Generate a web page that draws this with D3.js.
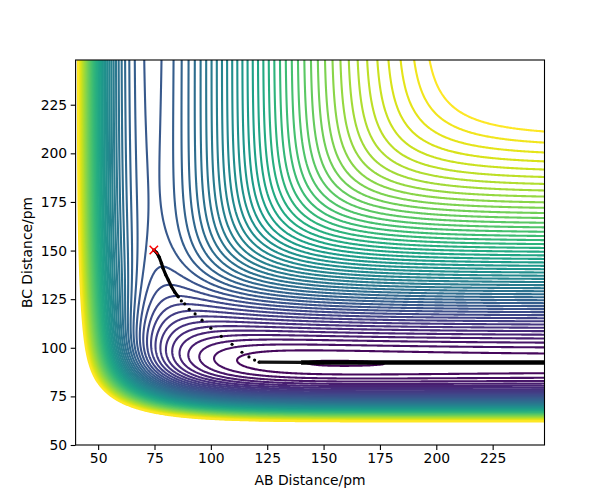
<!DOCTYPE html>
<html><head><meta charset="utf-8">
<script src="https://cdn.jsdelivr.net/npm/d3@7"></script>
<style>body{margin:0;background:#fff}svg{display:block}text{font-family:"DejaVu Sans",sans-serif}</style>
</head><body>
<svg id="c" width="605" height="500"></svg>
<script>
// Pair parameters (A=H, B=H, C=F) : [H-H, H-F]
const pairDe   = [458.0, 590.7];    // kJ/mol
const pairBeta = [0.01942, 0.02219]; // 1/pm
const pairRe   = [74.1, 91.7];      // pm
const pairSato = [0.30, 0.16];
// contour levels (kJ/mol)
const levelMin = -594.6, levelMax = -84.6, levelStep = 10;
// axes
const xDomain = [40, 248], yDomain = [50, 248];
const xTicks = [50, 75, 100, 125, 150, 175, 200, 225];
const yTicks = [50, 75, 100, 125, 150, 175, 200, 225];
// trajectory (AB, BC)
const startPoint = [74.7, 150.3];
const trajHead = [[74.8,150.2],[75.9,149.0],[77.1,146.6],[78.1,143.5],[78.8,140.9],[80.0,137.5],[81.1,134.9],[82.5,131.5],[84.0,128.6],[85.5,126.3]];
const trajDots = [[86.9,124.1],[88.4,122.6],[90.4,119.8],[93.0,117.4],[96.1,114.2],[100.0,110.1],[104.6,105.9],[109.4,101.8],[113.8,97.7],[116.9,95.3],[119.4,93.7],[121.4,92.6]];
const trajTailA = [[121.4,92.6],[140,92.45]];
const trajTailB = [[140,92.45],[248,92.4]];

const L=75.6, R=544.5, T=60, B=445;
const svg = d3.select("#c");
const xs = d3.scaleLinear().domain(xDomain).range([L,R]);
const ys = d3.scaleLinear().domain(yDomain).range([B,T]);

function parts(r,k){
  const e = Math.exp(-pairBeta[k]*(r-pairRe[k])), D=pairDe[k], S=pairSato[k];
  const Q = D/4*((3+S)*e*e-(2+6*S)*e);
  const J = D/4*((1+3*S)*e*e-(6+2*S)*e);
  return [Q/(1+S), J/(1+S)];
}
function V(ab,bc){
  const [q1,j1]=parts(ab,0), [q2,j2]=parts(bc,1), [q3,j3]=parts(ab+bc,1);
  return q1+q2+q3-Math.sqrt(Math.max(0,j1*j1+j2*j2+j3*j3-j1*j2-j2*j3-j1*j3));
}
const step=0.5, gx0=xDomain[0]-1, gy0=yDomain[0]-1;
const nx=Math.round((xDomain[1]+1-gx0)/step)+1, ny=Math.round((yDomain[1]+1-gy0)/step)+1;
const vals=new Array(nx*ny);
for(let j=0;j<ny;j++)for(let i=0;i<nx;i++){vals[j*nx+i]=Math.min(1e4,V(gx0+i*step,gy0+j*step));}
const levels=d3.range(levelMin, levelMax+1e-9, levelStep);
const color=v=>d3.interpolateViridis((v-levelMin)/(levelMax-levelMin));
const contours=d3.contours().size([nx,ny]).thresholds(levels)(vals);
const proj=d3.geoTransform({point(x,y){this.stream.point(xs(gx0+(x-0.5)*step), ys(gy0+(y-0.5)*step));}});
const path=d3.geoPath(proj);
svg.append("clipPath").attr("id","clip").append("rect").attr("x",L).attr("y",T).attr("width",R-L).attr("height",B-T);
const g=svg.append("g").attr("clip-path","url(#clip)");
g.selectAll("path.c").data(contours).join("path").attr("class","c")
 .attr("d",path).attr("fill","none").attr("stroke",d=>color(d.value)).attr("stroke-width",2.1);
// trajectory
const line=d3.line().x(d=>xs(d[0])).y(d=>ys(d[1]));
g.append("path").attr("d",line(trajHead)).attr("fill","none").attr("stroke","#000").attr("stroke-width",3.2).attr("stroke-linecap","round");
g.selectAll("circle.t").data(trajHead.concat(trajDots)).join("circle").attr("class","t").attr("cx",d=>xs(d[0])).attr("cy",d=>ys(d[1])).attr("r",1.6).attr("fill","#000");
g.append("path").attr("d",line(trajTailA)).attr("fill","none").attr("stroke","#111").attr("stroke-width",3.2);
g.append("path").attr("d",line(trajTailB)).attr("fill","none").attr("stroke","#000").attr("stroke-width",4.6);
// start marker
const sx=xs(startPoint[0]), sy=ys(startPoint[1]), s=4.2;
svg.append("path").attr("d",`M${sx-s},${sy-s}L${sx+s},${sy+s}M${sx-s},${sy+s}L${sx+s},${sy-s}`).attr("stroke","red").attr("stroke-width",1.5);
// axes
const ax=svg.append("g").attr("transform",`translate(0,${B})`).call(d3.axisBottom(xs).tickValues(xTicks).tickSize(4.9).tickPadding(3.5));
const ay=svg.append("g").attr("transform",`translate(${L},0)`).call(d3.axisLeft(ys).tickValues(yTicks).tickSize(4.9).tickPadding(3.5));
[ax,ay].forEach(a=>{a.select(".domain").remove();a.selectAll("line").attr("stroke","#000").attr("stroke-width",1.1);a.selectAll("text").attr("font-size",13.9).attr("font-family","DejaVu Sans").attr("fill","#000");});
svg.append("rect").attr("x",L).attr("y",T).attr("width",R-L).attr("height",B-T).attr("fill","none").attr("stroke","#000").attr("stroke-width",1.1);
svg.append("text").attr("x",(L+R)/2).attr("y",485).attr("text-anchor","middle").attr("font-size",13.9).text("AB Distance/pm");
svg.append("text").attr("transform",`translate(32,${(T+B)/2}) rotate(-90)`).attr("text-anchor","middle").attr("font-size",13.9).text("BC Distance/pm");
</script></body></html>
